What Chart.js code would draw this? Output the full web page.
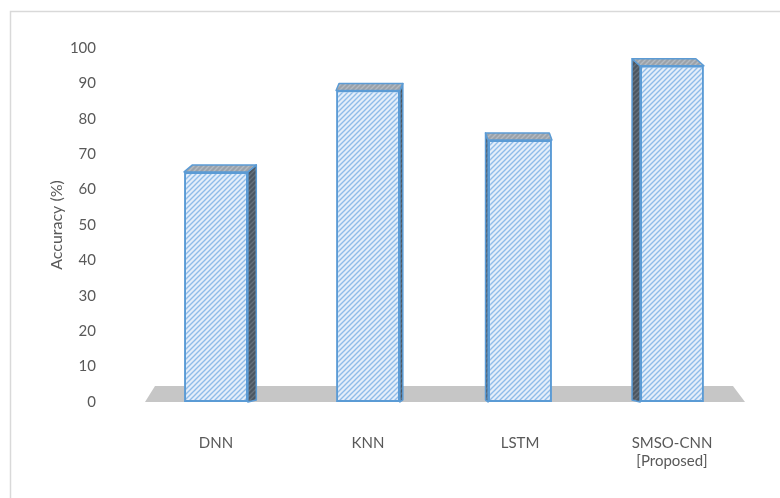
<!DOCTYPE html>
<html>
<head>
<meta charset="utf-8">
<script src="https://cdn.jsdelivr.net/npm/chart.js@4"></script>
<style>
  html, body { margin: 0; padding: 0; background: #fff; }
  #wrap { width: 780px; height: 498px; position: relative; }
</style>
</head>
<body>
<div id="wrap"><canvas id="chart"></canvas></div>
<script>
const categories = ["DNN", "KNN", "LSTM", ["SMSO-CNN", "[Proposed]"]];
const accuracy = [65, 88, 74, 95];
const yMin = 0, yMax = 100, yStep = 10;

// striped fill, like the office "wide upward diagonal" pattern
function stripes(bg, fg) {
    const c = document.createElement("canvas");
    c.width = 5; c.height = 5;
    const g = c.getContext("2d");
    g.fillStyle = bg;
    g.fillRect(0, 0, 5, 5);
    g.strokeStyle = fg;
    g.lineWidth = 1.4;
    g.beginPath();
    for (let k = -5; k <= 10; k += 5) {
        g.moveTo(k - 1, 6);
        g.lineTo(k + 6, -1);
    }
    g.stroke();
    return g.createPattern(c, "repeat");
}

const ctx0 = document.getElementById("chart").getContext("2d");
const frontFill = stripes("#e4eefa", "#8fbce9");
const sideFill = stripes("#4b5661", "#66717c");
const topFill = stripes("#9ba2aa", "#b3bac2");

// floor slab + box sides/tops, drawn behind the front faces
const boxes = {
    id: "boxes",
    beforeDatasetsDraw(chart) {
        const { ctx, chartArea: a } = chart;
        const y0 = chart.scales.y.getPixelForValue(0);
        const vp = (a.left + a.right) / 2 + 5;
        const dy = -7;

        ctx.save();
        ctx.fillStyle = "#c6c6c6";
        ctx.beginPath();
        ctx.moveTo(a.left + 5, y0);
        ctx.lineTo(a.right - 3, y0);
        ctx.lineTo(a.right - 15, y0 - 16);
        ctx.lineTo(a.left + 15, y0 - 16);
        ctx.closePath();
        ctx.fill();

        chart.getDatasetMeta(0).data.forEach(bar => {
            const x1 = bar.x - bar.width / 2, x2 = bar.x + bar.width / 2;
            const top = bar.y, bot = bar.base;
            const dx = (vp - bar.x) * 0.036;
            const sx = dx > 0 ? x2 : x1;

            ctx.lineJoin = "round";
            ctx.fillStyle = sideFill;
            ctx.strokeStyle = "#5b9bd5";
            ctx.lineWidth = 1.5;
            ctx.beginPath();
            ctx.moveTo(sx, top);
            ctx.lineTo(sx + dx, top + dy);
            ctx.lineTo(sx + dx, bot + dy * 0.3);
            ctx.lineTo(sx, bot);
            ctx.closePath();
            ctx.fill();
            ctx.stroke();

            ctx.fillStyle = topFill;
            ctx.beginPath();
            ctx.moveTo(x1, top);
            ctx.lineTo(x1 + dx, top + dy);
            ctx.lineTo(x2 + dx, top + dy);
            ctx.lineTo(x2, top);
            ctx.closePath();
            ctx.fill();
            ctx.stroke();
        });
        ctx.restore();
    },
    afterDraw(chart) {
        const { ctx } = chart;
        ctx.save();
        ctx.strokeStyle = "#d9d9d9";
        ctx.lineWidth = 1.5;
        ctx.beginPath();
        ctx.moveTo(10.5, chart.height);
        ctx.lineTo(10.5, 11.5);
        ctx.lineTo(chart.width, 11.5);
        ctx.stroke();
        ctx.restore();
    }
};

const font = { family: "Lato, 'Open Sans', sans-serif", size: 15 };

new Chart(ctx0, {
    type: "bar",
    data: {
        labels: categories,
        datasets: [{
            data: accuracy,
            backgroundColor: frontFill,
            borderColor: "#5b9bd5",
            borderWidth: 2,
            borderSkipped: false,
            categoryPercentage: 1,
            barPercentage: 0.42
        }]
    },
    options: {
        responsive: true,
        maintainAspectRatio: false,
        animation: false,
        events: [],
        layout: { padding: { left: 44, right: 32, top: 48, bottom: 0 } },
        plugins: { legend: { display: false }, tooltip: { enabled: false } },
        scales: {
            x: {
                grid: { display: false },
                border: { display: false },
                ticks: { color: "#595959", font, padding: 24, maxRotation: 0 },
                afterFit(s) { s.height = 96; }
            },
            y: {
                min: yMin,
                max: yMax,
                grid: { display: false },
                border: { display: false },
                ticks: { stepSize: yStep, color: "#595959", font, padding: 36 },
                title: {
                    display: true,
                    text: "Accuracy (%)",
                    color: "#595959",
                    font: { family: font.family, size: 16 },
                    padding: 3
                },
                afterFit(s) { s.width = 96; }
            }
        }
    },
    plugins: [boxes]
});
</script>
</body>
</html>
